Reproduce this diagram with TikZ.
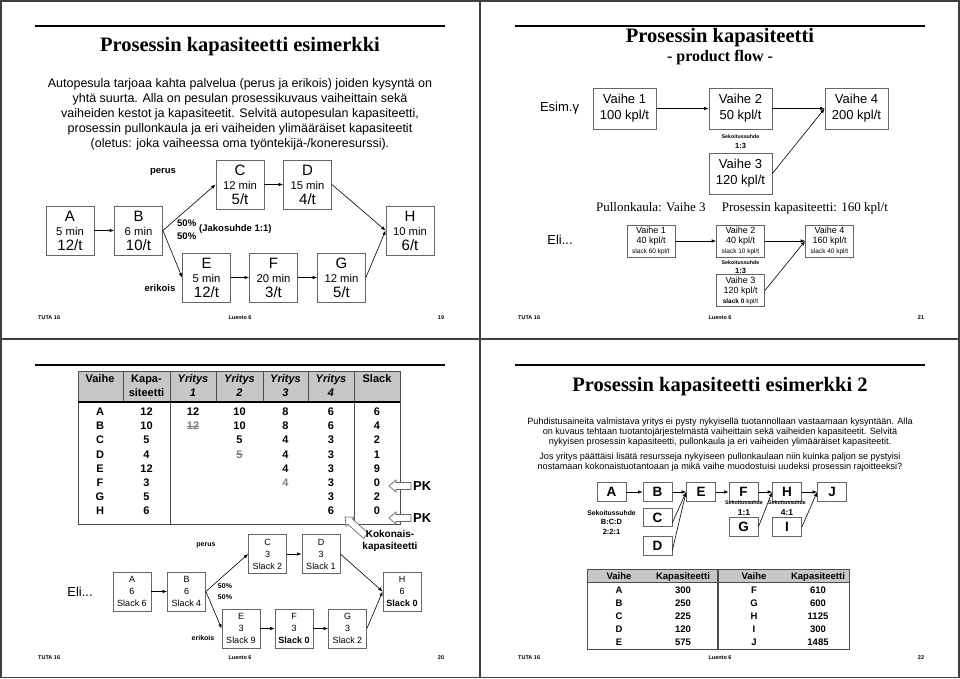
\documentclass[tikz,border=0pt]{standalone}
\usepackage{fontspec}
\setmainfont{Liberation Sans}
\newfontfamily\timesfont{Liberation Serif}
\usetikzlibrary{arrows.meta}

\newcommand{\fsz}[2]{\fontsize{#1}{#2}\selectfont}
\newcommand{\tall}[1]{{\fontsize{15}{14.5}\selectfont #1}}

\tikzset{
  frame/.style={line width=1.3pt, black!75},
  rule/.style={line width=1.5pt, black},
  foot/.style={font=\bfseries\fsz{5.5}{6}, inner sep=0pt},
  slidetitle/.style={font=\timesfont\bfseries\fsz{20.5}{23}, inner sep=0pt},
  prose/.style={align=center, inner sep=0pt},
  stage/.style={draw=black!60, fill=white, line width=0.8pt, align=center, inner sep=0pt},
  wash/.style={stage, minimum width=48, minimum height=49, font=\fsz{11.3}{14.5}},
  phase/.style={stage, minimum width=63, minimum height=41, font=\fsz{13}{16}},
  minor/.style={stage, minimum width=48, minimum height=32, font=\fsz{9}{10}},
  slackbox/.style={stage, minimum width=38, minimum height=39, font=\fsz{9}{12}},
  letter/.style={stage, minimum width=29, minimum height=18.5, font=\bfseries\fsz{13.5}{14}},
  flow/.style={-{Latex[length=4.5pt,width=3.5pt]}, line width=0.6pt},
  tag/.style={font=\bfseries\fsz{9.5}{11}, inner sep=0pt},
  smalltag/.style={font=\bfseries\fsz{7}{8}, inner sep=0pt},
  mix/.style={font=\bfseries\fsz{5.3}{6}, inner sep=0pt},
  mixwide/.style={font=\bfseries\fsz{6.8}{7}, inner sep=0pt},
  ratio/.style={font=\bfseries\fsz{7.5}{8}, inner sep=0pt},
  bigratio/.style={font=\bfseries\fsz{8.5}{9}, inner sep=0pt},
  big/.style={font=\fsz{13}{15}, inner sep=0pt},
  cell/.style={font=\bfseries\fsz{11}{14}, inner sep=0pt, text depth=0pt},
  struck/.style={cell, text=black!50},
  tcell/.style={font=\bfseries\fsz{9.5}{11}, inner sep=0pt, text depth=0pt},
  hollow/.style={draw=black!60, fill=white, line width=0.7pt},
  grid/.style={line width=0.8pt, black!70},
}

\begin{document}
\begin{tikzpicture}[x=1pt, y=-1pt]
\useasboundingbox (0,0) rectangle (960,679);
% slide frames
\draw[frame] (1,1) rectangle (959,677.5);
\draw[frame] (480,1) -- (480,677.5);
\draw[frame] (1,339) -- (959,339);
\foreach \ox/\oy in {0/26, 480/26, 0/365, 480/365}
  \draw[rule] (\ox+35,\oy) -- (\ox+445,\oy);
\foreach \ox/\oy/\pg in {0/318/19, 480/318/21, 0/658/20, 480/658/22} {
  \node[foot, anchor=west] (tuta\pg) at (\ox+38,\oy) {TUTA 16};
  \node[foot] (luento\pg) at (\ox+240,\oy) {Luento 6};
  \node[foot] (page\pg) at (\ox+441,\oy) {\pg};
}

% ---- slide 19: car wash
\node[slidetitle] (title19) at (240,47) {Prosessin kapasiteetti esimerkki};
\node[prose, font=\fsz{12.5}{15}] (task19) at (240,114) {Autopesula tarjoaa kahta palvelua (perus ja erikois) joiden kysyntä on\\
yhtä suurta. Alla on pesulan prosessikuvaus vaiheittain sekä\\
vaiheiden kestot ja kapasiteetit. Selvitä autopesulan kapasiteetti,\\
prosessin pullonkaula ja eri vaiheiden ylimääräiset kapasiteetit\\
(oletus: joka vaiheessa oma työntekijä-/koneresurssi).};
\node[wash] (A) at (70,230.5) {\tall{A}\\5 min\\\tall{12/t}};
\node[wash] (B) at (138.5,230.5) {\tall{B}\\6 min\\\tall{10/t}};
\node[wash] (C) at (240,184.5) {\tall{C}\\12 min\\\tall{5/t}};
\node[wash] (D) at (307.5,184.5) {\tall{D}\\15 min\\\tall{4/t}};
\node[wash] (E) at (206.5,277.5) {\tall{E}\\5 min\\\tall{12/t}};
\node[wash] (F) at (273.5,277.5) {\tall{F}\\20 min\\\tall{3/t}};
\node[wash] (G) at (341.5,277.5) {\tall{G}\\12 min\\\tall{5/t}};
\node[wash] (H) at (410,230.5) {\tall{H}\\10 min\\\tall{6/t}};
\draw[flow] (A) -- (B);
\draw[flow] (B.east) -- (C.west);
\draw[flow] (B.east) -- (E.west);
\draw[flow] (C) -- (D);
\draw[flow] (D.east) -- (H.west);
\draw[flow] (E) -- (F);
\draw[flow] (F) -- (G);
\draw[flow] (G.east) -- (H.west);
\node[tag] (perus) at (163,172) {perus};
\node[tag] (erikois) at (160,288) {erikois};
\node[tag, anchor=west] (half1) at (177,223) {50\%};
\node[tag, anchor=west] (half2) at (177,236) {50\%};
\node[tag, anchor=west] (jako) at (199,229.5) {(Jakosuhde 1:1)};

% ---- slide 21: product flow
\node[slidetitle] (title21) at (720,38) {Prosessin kapasiteetti};
\node[font=\timesfont\bfseries\fsz{16}{18}, inner sep=0pt] (sub21) at (720,58) {- product flow -};
\node[big] (esim) at (559.5,108) {Esim.γ};
\node[phase] (v1) at (624.5,108.5) {Vaihe 1\\100 kpl/t};
\node[phase] (v2) at (740.5,108.5) {Vaihe 2\\50 kpl/t};
\node[phase] (v4) at (856.5,108.5) {Vaihe 4\\200 kpl/t};
\node[phase] (v3) at (740.5,173.5) {Vaihe 3\\120 kpl/t};
\node[mix] (mixv) at (740.5,137) {Sekoitussuhde};
\node[ratio] (ratv) at (740.5,146) {1:3};
\draw[flow] (v1) -- (v2);
\draw[flow] (v2) -- (v4);
\draw[flow] (v3.east) -- (v4.west);
\node[font=\timesfont\fsz{13}{15}, inner sep=0pt] (neck) at (742,208) {Pullonkaula: Vaihe 3\quad\ Prosessin kapasiteetti: 160 kpl/t};
\node[big] (eli21) at (560,240) {Eli...};
\node[minor] (w1) at (651,241) {Vaihe 1\\40 kpl/t\\{\fsz{6.5}{10}slack 60 kpl/t}};
\node[minor] (w2) at (740.5,241) {Vaihe 2\\40 kpl/t\\{\fsz{6.5}{10}slack 10 kpl/t}};
\node[minor] (w4) at (829.5,241) {Vaihe 4\\160 kpl/t\\{\fsz{6.5}{10}slack 40 kpl/t}};
\node[minor] (w3) at (740.5,290.5) {Vaihe 3\\120 kpl/t\\{\fsz{6.5}{10}\textbf{slack 0} kpl/t}};
\node[mix] (mixw) at (740.5,263) {Sekoitussuhde};
\node[ratio] (ratw) at (740.5,270.5) {1:3};
\draw[flow] (w1) -- (w2);
\draw[flow] (w2) -- (w4);
\draw[flow] (w3.east) -- (w4.west);

% ---- slide 20: table and slack
\fill[black!22] (78,371) rectangle (400,402);
\draw[grid] (78,371) rectangle (400,524);
\foreach \gx in {123,170,216,263,308,354}
  \draw[grid] (\gx,371) -- (\gx,402);
\draw[grid] (170,402) -- (170,524);
\draw[grid] (354,402) -- (354,524);
\draw[line width=1.2pt] (78,402) -- (400,402);
\node[cell] (hv) at (100,379) {Vaihe};
\node[cell, align=center] (hk) at (146.5,386) {Kapa-\\siteetti};
\foreach \i/\hx in {1/193,2/239.5,3/285.5,4/331}
  \node[cell, align=center, font=\bfseries\itshape\fsz{11}{14}] (hy\i) at (\hx,386) {Yritys\\\i};
\node[cell] (hs) at (377,379) {Slack};
\foreach \r/\y/\k/\w/\s in {A/412/12/6/6, B/426/10/6/4, C/440/5/3/2, D/454.5/4/3/1,
                            E/468.5/12/3/9, F/483/3/3/0, G/497/5/3/2, H/511/6/6/0} {
  \node[cell] (row\r) at (100,\y) {\r};
  \node[cell] (kap\r) at (146.5,\y) {\k};
  \node[cell] (yd\r) at (331,\y) {\w};
  \node[cell] (sl\r) at (377,\y) {\s};
}
\node[cell] (yaA) at (193,412) {12};
\node[struck] (yaB) at (193,426) {12};
\draw[black!50, line width=0.6pt] (yaB.west) -- (yaB.east);
\node[cell] (ybA) at (239.5,412) {10};
\node[cell] (ybB) at (239.5,426) {10};
\node[cell] (ybC) at (239.5,440) {5};
\node[struck] (ybD) at (239.5,454.5) {5};
\draw[black!50, line width=0.6pt] (ybD.west) -- (ybD.east);
\foreach \r/\y/\v in {A/412/8, B/426/8, C/440/4, D/454.5/4, E/468.5/4}
  \node[cell] (yc\r) at (285.5,\y) {\v};
\node[struck] (ycF) at (285.5,483) {4};
% bottleneck pointers
\foreach \py in {486,518} {
  \draw[hollow] (389,\py) -- (396,\py-6) -- (396,\py-3.5) -- (411,\py-3.5)
    -- (411,\py+3.5) -- (396,\py+3.5) -- (396,\py+6) -- cycle;
  \node[font=\bfseries\fsz{13}{14}, inner sep=0pt, anchor=west] (pk\py) at (413,\py) {PK};
}
\begin{scope}[shift={(345,517)}, rotate=-42]
  \draw[hollow] (0,0) -- (7,-6) -- (7,-3.5) -- (28,-3.5) -- (28,3.5) -- (7,3.5) -- (7,6) -- cycle;
\end{scope}
\node[font=\bfseries\fsz{10}{12}, align=center, inner sep=0pt] (koko) at (390,541) {Kokonais-\\kapasiteetti};
\node[big] (eli20) at (80,592) {Eli...};
\node[slackbox] (a3) at (132,591.5) {A\\6\\Slack 6};
\node[slackbox] (b3) at (186.5,591.5) {B\\6\\Slack 4};
\node[slackbox] (c3) at (267.5,554) {C\\3\\Slack 2};
\node[slackbox] (d3) at (321,554) {D\\3\\Slack 1};
\node[slackbox] (e3) at (241,628.5) {E\\3\\Slack 9};
\node[slackbox] (f3) at (294,628.5) {F\\3\\\textbf{Slack 0}};
\node[slackbox] (g3) at (347.5,628.5) {G\\3\\Slack 2};
\node[slackbox] (h3) at (402,591.5) {H\\6\\\textbf{Slack 0}};
\draw[flow] (a3) -- (b3);
\draw[flow] (b3.east) -- (c3.west);
\draw[flow] (b3.east) -- (e3.west);
\draw[flow] (c3) -- (d3);
\draw[flow] (d3.east) -- (h3.west);
\draw[flow] (e3) -- (f3);
\draw[flow] (f3) -- (g3);
\draw[flow] (g3.east) -- (h3.west);
\node[smalltag] (perus3) at (206,545) {perus};
\node[smalltag] (erikois3) at (203,638) {erikois};
\node[smalltag] (half3a) at (225,586) {50\%};
\node[smalltag] (half3b) at (225,597) {50\%};

% ---- slide 22: example 2
\node[slidetitle] (title22) at (720,387) {Prosessin kapasiteetti esimerkki 2};
\node[prose, font=\fsz{9.1}{10.2}] (task22a) at (720,432) {Puhdistusaineita valmistava yritys ei pysty nykyisellä tuotannollaan vastaamaan kysyntään. Alla\\
on kuvaus tehtaan tuotantojärjestelmästä vaiheittain sekä vaiheiden kapasiteetit. Selvitä\\
nykyisen prosessin kapasiteetti, pullonkaula ja eri vaiheiden ylimääräiset kapasiteetit.};
\node[prose, font=\fsz{9.1}{10.2}] (task22b) at (720,462) {Jos yritys päättäisi lisätä resursseja nykyiseen pullonkaulaan niin kuinka paljon se pystyisi\\
nostamaan kokonaistuotantoaan ja mikä vaihe muodostuisi uudeksi prosessin rajoitteeksi?};
\node[letter] (pA) at (611.5,492) {A};
\node[letter] (pB) at (657.5,492) {B};
\node[letter] (pE) at (701,492) {E};
\node[letter] (pF) at (743.5,492) {F};
\node[letter] (pH) at (787,492) {H};
\node[letter] (pJ) at (832,492) {J};
\node[letter] (pC) at (657.5,517.5) {C};
\node[letter] (pD) at (657.5,546) {D};
\node[letter] (pG) at (743.5,527) {G};
\node[letter] (pI) at (787,527) {I};
\draw[flow] (pA) -- (pB);
\draw[flow] (pB) -- (pE);
\draw[flow] (pE) -- (pF);
\draw[flow] (pF) -- (pH);
\draw[flow] (pH) -- (pJ);
\draw[flow] (pC.-19) -- (pE.west);
\draw[flow] (pD.-15) -- (pE.west);
\draw[flow] (pG.east) -- (pH.west);
\draw[flow] (pI.east) -- (pJ.west);
\node[mixwide] (mixbcd) at (611.5,513) {Sekoitussuhde};
\node[ratio] (bcd) at (611.5,522) {B:C:D};
\node[ratio] (bcdr) at (611.5,532) {2:2:1};
\node[mix] (mixfg) at (744,503) {Sekoitussuhde};
\node[bigratio] (fg) at (744,513) {1:1};
\node[mix] (mixhi) at (787,503) {Sekoitussuhde};
\node[bigratio] (hi) at (787,513) {4:1};
\fill[black!22] (587,569) rectangle (849,582);
\draw[grid] (587,569) rectangle (849,649);
\draw[grid] (587,582) -- (849,582);
\draw[line width=1.1pt, black!70] (718,569) -- (718,649);
\foreach \hx/\hname in {619/Vaihe, 683/Kapasiteetti, 754/Vaihe, 818/Kapasiteetti}
  \node[tcell] (th\hx) at (\hx,576) {\hname};
\foreach \a/\ca/\b/\cb/\y in {A/300/F/610/590, B/250/G/600/603, C/225/H/1125/616,
                              D/120/I/300/629, E/575/J/1485/642} {
  \node[tcell] (tl\a) at (619,\y) {\a};
  \node[tcell] (tk\a) at (683,\y) {\ca};
  \node[tcell] (tl\b) at (754,\y) {\b};
  \node[tcell] (tk\b) at (818,\y) {\cb};
}
\end{tikzpicture}
\end{document}
